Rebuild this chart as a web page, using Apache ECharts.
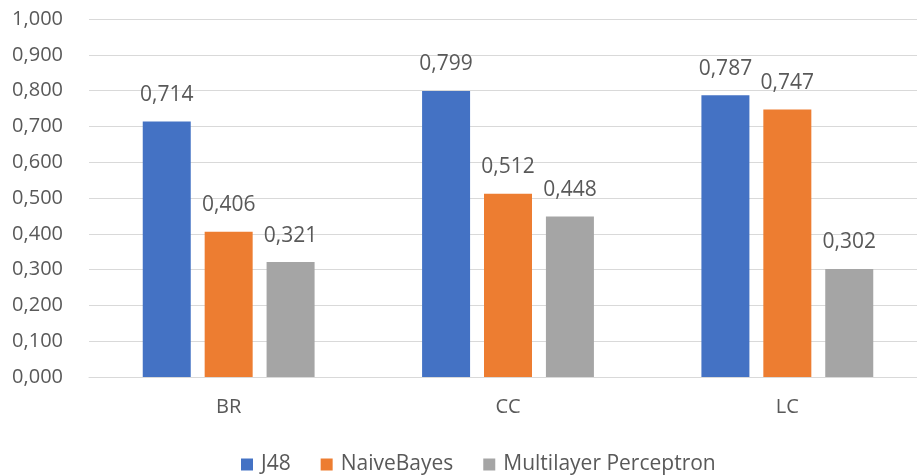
<!DOCTYPE html>
<html>
<head>
<meta charset="utf-8">
<script src="https://cdn.jsdelivr.net/npm/echarts@6/dist/echarts.min.js"></script>
<style>
  html, body { margin: 0; padding: 0; background: #ffffff; overflow: hidden; }
  /* the plot runs slightly past the right edge of the window */
  #chart { width: 940px; height: 475px; }
</style>
</head>
<body>
<div id="chart"></div>
<script>
// Datasets (categories) and per-classifier scores
const categories = ['BR', 'CC', 'LC'];
const j48 = [0.714, 0.799, 0.787];
const naiveBayes = [0.406, 0.512, 0.747];
const multilayerPerceptron = [0.321, 0.448, 0.302];
const seriesNames = ['J48', 'NaiveBayes', 'Multilayer Perceptron'];
const yTicks = { min: 0, max: 1, interval: 0.1 };

const FONT = 'Open Sans';
const TEXT = '#595959';
const fmt = v => v.toFixed(3).replace('.', ',');

const chart = echarts.init(document.getElementById('chart'), null, { renderer: 'canvas' });

function barSeries(name, data, color) {
  return {
    name: name,
    type: 'bar',
    data: data,
    barWidth: 48,
    barGap: '29%',
    itemStyle: { color: color },
    label: {
      show: true,
      position: 'top',
      distance: 16,
      formatter: p => fmt(p.value),
      color: TEXT,
      fontFamily: FONT,
      fontSize: 21
    }
  };
}

chart.setOption({
  animation: false,
  backgroundColor: '#ffffff',
  grid: { left: 89, top: 19, width: 838, height: 358, containLabel: false },
  legend: {
    data: seriesNames,
    left: 236,
    top: 449,
    icon: 'rect',
    itemWidth: 12,
    itemHeight: 12,
    itemGap: 30,
    textStyle: { color: TEXT, fontFamily: FONT, fontSize: 21, padding: [0, 0, 0, 3] }
  },
  xAxis: {
    type: 'category',
    data: categories,
    axisLine: { lineStyle: { color: '#D9D9D9', width: 1 } },
    axisTick: { show: false },
    axisLabel: { color: TEXT, fontFamily: FONT, fontSize: 20, margin: 20 }
  },
  yAxis: {
    type: 'value',
    min: yTicks.min,
    max: yTicks.max,
    interval: yTicks.interval,
    axisLine: { show: false },
    axisTick: { show: false },
    splitLine: { lineStyle: { color: '#D9D9D9', width: 1 } },
    axisLabel: {
      color: TEXT,
      fontFamily: FONT,
      fontSize: 20,
      margin: 26,
      formatter: v => fmt(v)
    }
  },
  series: [
    barSeries(seriesNames[0], j48, '#4472C4'),
    barSeries(seriesNames[1], naiveBayes, '#ED7D31'),
    barSeries(seriesNames[2], multilayerPerceptron, '#A5A5A5')
  ]
});
</script>
</body>
</html>
